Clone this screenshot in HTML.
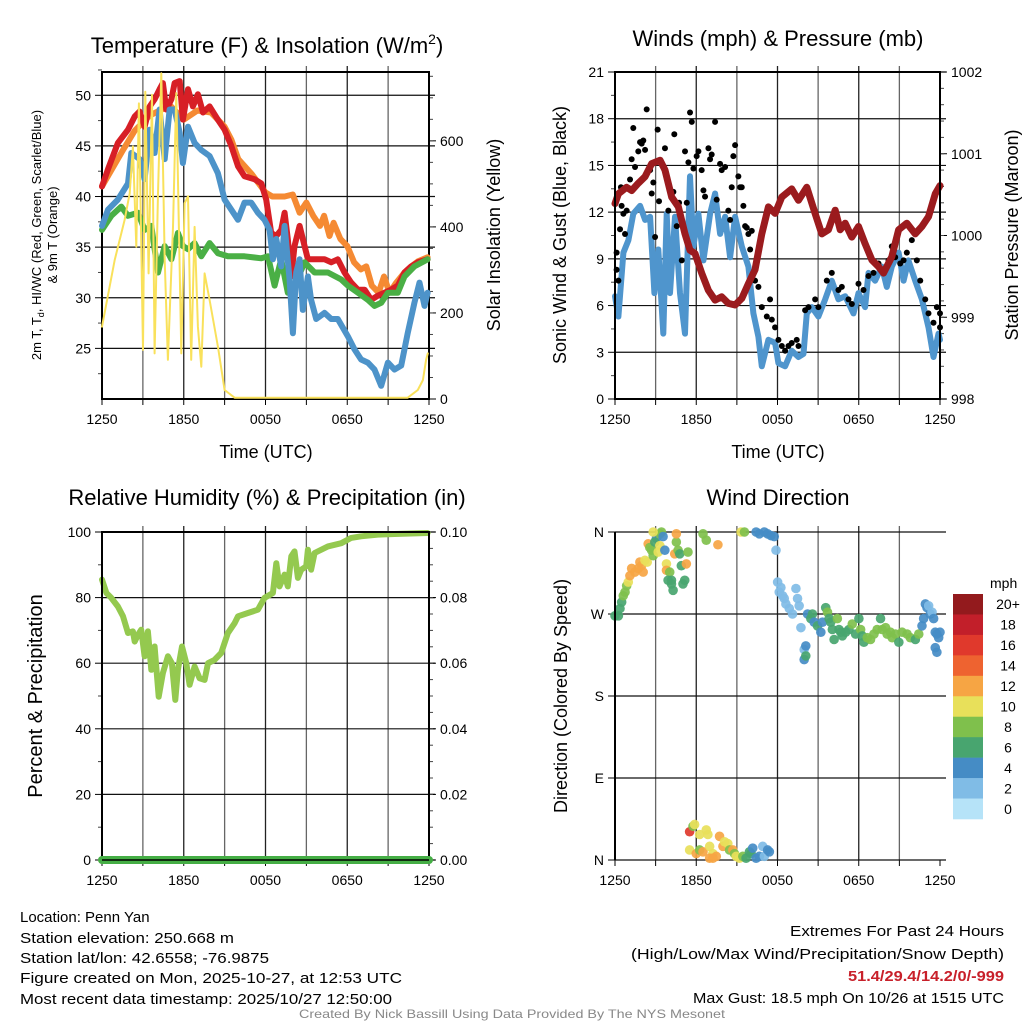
<!DOCTYPE html>
<html><head><meta charset="utf-8"><style>
html,body{margin:0;padding:0;background:#fff;}
svg{display:block;font-family:"Liberation Sans",sans-serif;}
</style></head><body>
<svg id="fig" width="1024" height="1024" viewBox="0 0 1024 1024" xmlns="http://www.w3.org/2000/svg">
<rect width="1024" height="1024" fill="#fff"/>
<g id="g1"></g>
<g id="g2"></g>
<g id="g3"></g>
<g id="g4"></g>
<g font-size="22" text-anchor="middle">
<text x="267" y="53">Temperature (F) &amp; Insolation (W/m<tspan font-size="14" dy="-9">2</tspan><tspan dy="9">)</tspan></text>
<text x="778" y="46">Winds (mph) &amp; Pressure (mb)</text>
<text x="267" y="505">Relative Humidity (%) &amp; Precipitation (in)</text>
<text x="778" y="505">Wind Direction</text>
</g>
<g font-size="18" text-anchor="middle">
<text x="266" y="458">Time (UTC)</text>
<text x="778" y="458">Time (UTC)</text>
<text font-size="13" transform="translate(41,235) rotate(-90)">2m T, T<tspan font-size="9" dy="3">d</tspan><tspan dy="-3">, HI/WC (Red, Green, Scarlet/Blue)</tspan></text>
<text font-size="13" transform="translate(57,235) rotate(-90)">&amp; 9m T (Orange)</text>
<text transform="translate(500,235) rotate(-90)">Solar Insolation (Yellow)</text>
<text transform="translate(566,235) rotate(-90)">Sonic Wind &amp; Gust (Blue, Black)</text>
<text transform="translate(1018,235) rotate(-90)">Station Pressure (Maroon)</text>
<text font-size="20" transform="translate(42,696) rotate(-90)">Percent &amp; Precipitation</text>
<text transform="translate(567,696) rotate(-90)">Direction (Colored By Speed)</text>
</g>
<g font-size="15">
<text x="20" y="922">Location: Penn Yan</text>
<text x="20" y="943" textLength="214" lengthAdjust="spacingAndGlyphs">Station elevation: 250.668 m</text>
<text x="20" y="963" textLength="249" lengthAdjust="spacingAndGlyphs">Station lat/lon: 42.6558; -76.9875</text>
<text x="20" y="983" textLength="382" lengthAdjust="spacingAndGlyphs">Figure created on Mon, 2025-10-27, at 12:53 UTC</text>
<text x="20" y="1004" textLength="372" lengthAdjust="spacingAndGlyphs">Most recent data timestamp: 2025/10/27 12:50:00</text>
</g>
<g font-size="15" text-anchor="end">
<text x="1004" y="936" textLength="214" lengthAdjust="spacingAndGlyphs">Extremes For Past 24 Hours</text>
<text x="1004" y="959" textLength="373" lengthAdjust="spacingAndGlyphs">(High/Low/Max Wind/Precipitation/Snow Depth)</text>
<text x="1004" y="981" fill="#c8202a" font-weight="bold" textLength="156" lengthAdjust="spacingAndGlyphs">51.4/29.4/14.2/0/-999</text>
<text x="1004" y="1003" textLength="311" lengthAdjust="spacingAndGlyphs">Max Gust: 18.5 mph On 10/26 at 1515 UTC</text>
</g>
<text x="512" y="1018" font-size="12" fill="#888" text-anchor="middle" textLength="426" lengthAdjust="spacingAndGlyphs">Created By Nick Bassill Using Data Provided By The NYS Mesonet</text>
</svg>
<script>
// ---------- data ----------
const xTickLabels = ["1250","1850","0050","0650","1250"];
const tRedH = [0,0.44,1.17,1.91,2.4,2.76,3.13,3.5,3.86,4.23,4.47,4.72,5.09,5.33,5.7,5.94,6.31,6.67,7.04,7.41,7.9,8.5,9.0,9.49,9.98,10.46,11.2,11.69,12.05,12.42,12.79,13.15,13.4,13.64,13.89,14.13,14.5,14.87,15.11,15.48,15.84,16.33,16.82,17.31,17.8,18.29,18.78,19.27,19.76,20.24,20.73,21.22,21.71,22.2,22.69,23.18,23.9];
const tRedV = [41.0,42.7,45.3,46.6,47.9,48.4,46.9,48.9,49.6,50.6,51.2,48.6,49.6,51.2,51.4,47.6,50.6,48.9,50.1,48.3,48.9,47.6,46.6,45.0,43.0,42.0,41.7,41.3,39.7,36.4,36.1,36.7,38.4,35.8,32.1,35.1,37.1,35.1,33.8,33.8,33.8,33.8,33.5,33.8,32.5,31.5,30.8,30.8,29.8,30.2,30.5,30.8,31.2,32.5,33.1,33.5,33.8];
const t9mH = [0,1.5,2.4,3.5,5,6,7,8,9,9.5,10,11,12,12.5,13.4,14,14.5,15,15.5,16,16.3,16.7,17,17.5,18,18.5,19,19.4,19.8,20.3,20.7,21.1,21.6,22.2,22.7,23.2,23.9];
const t9mV = [41,44.5,46.5,48,49,47.6,48.5,48.3,46.9,45.6,43.7,42.2,40.4,40.0,40.0,40.2,38.4,39.4,38.1,37.1,38.1,36.1,37.4,35.8,35.1,33.5,32.8,33.1,31.2,30.5,32.1,30.5,31.5,32.5,33.1,33.6,34.0];
const hiH = [0,0.44,1.17,1.91,2.15,2.76,3.13,3.5,3.86,4.23,4.6,4.96,5.33,5.7,5.94,6.31,6.8,7.29,7.9,8.51,9.0,9.49,9.98,10.46,10.95,11.44,11.93,12.3,12.54,12.79,13.15,13.4,13.77,14.01,14.25,14.5,14.74,15.11,15.35,15.72,16.33,16.82,17.31,18.04,18.53,19.02,19.51,20.0,20.49,20.98,21.47,21.96,22.44,22.93,23.3,23.67,23.9];
const hiV = [37.1,38.7,39.7,41.3,44.3,43.7,41.7,46.6,44.3,48.6,43.7,48.6,48.6,46.3,43.3,46.9,45.3,44.6,44.0,42.3,39.7,38.7,37.7,39.4,39.4,38.4,37.7,36.7,33.8,35.8,33.1,37.1,31.8,26.5,32.5,33.8,28.8,32.1,29.8,27.9,28.5,27.9,27.9,26.2,24.9,23.9,23.6,22.9,21.3,23.6,22.9,23.3,26.5,29.5,31.5,29.2,30.5];
const tdH = [0,0.68,1.42,1.91,2.64,3.13,3.62,4.11,4.6,5.09,5.57,5.94,6.31,6.8,7.29,7.9,8.51,9.24,10.46,11.69,12.18,12.67,13.15,13.64,14.13,14.87,15.6,16.58,17.56,18.04,18.78,19.51,20.0,20.49,20.98,21.71,22.2,22.93,23.9];
const tdV = [36.7,38.1,39.0,38.1,38.4,36.7,37.1,32.5,35.1,33.8,36.4,35.1,34.8,35.4,34.1,35.4,34.4,34.1,34.1,33.9,34.1,31.2,33.8,30.5,31.2,33.5,32.5,32.5,31.8,31.2,30.5,29.8,29.2,29.5,30.5,30.5,32.1,33.1,33.8];
const solH = [0,0.93,1.66,2.03,2.27,2.4,2.52,2.71,3.01,3.18,3.42,3.67,3.86,4.11,4.35,4.6,4.84,5.21,5.45,5.82,6.06,6.31,6.55,6.8,7.04,7.29,7.53,7.9,8.51,9.0,9.73,22.44,23.18,23.55,23.79,23.91];
const solV = [168,323,416,478,587,463,354,687,114,714,292,707,106,478,757,323,91,400,711,106,455,471,91,400,168,75,292,230,122,21,3,3,21,44,91,106];
const windH = [0,0.25,0.62,0.99,1.35,1.85,2.22,2.59,2.91,3.2,3.57,3.82,4.06,4.43,4.8,5.17,5.54,5.79,6.16,6.53,7.02,7.39,7.76,8.13,8.5,8.87,9.36,9.85,10.22,10.59,10.84,11.33,11.82,12.07,12.56,13.05,13.55,13.92,14.16,14.53,15.02,15.52,16.01,16.5,17.0,17.61,17.98,18.47,18.72,19.21,19.7,20.07,20.44,20.94,21.31,21.67,22.17,22.66,23.15,23.52,23.89,24.0];
const windV = [6.6,5.3,9.4,10.2,11.9,12.4,11.5,11.7,6.8,9.6,4.2,11.9,6.8,11.7,6.8,4.2,14.3,9.8,11.9,8.9,11.9,13.2,10.6,11.7,9.1,11.7,9.8,8.5,5.5,4.0,2.1,3.8,3.6,2.3,2.1,3.1,2.7,2.9,5.5,5.9,5.3,6.4,7.6,6.4,6.6,5.5,6.8,5.9,8.1,7.6,8.5,7.2,8.5,9.4,7.6,8.9,7.6,6.4,4.6,2.7,4.2,3.8];
const gustH = [0.12,0.12,0.25,0.37,0.49,0.62,0.74,0.44,0.86,1.11,1.23,1.35,1.48,1.72,1.85,1.97,2.09,2.22,2.34,2.59,2.71,2.83,2.96,3.15,3.25,3.69,3.94,4.31,4.38,4.56,4.73,4.93,5.17,5.3,5.42,5.54,5.67,5.79,6.03,6.16,6.4,6.53,6.65,6.9,7.02,7.14,7.39,7.51,7.76,7.88,8.13,8.37,8.5,8.62,8.74,8.87,9.11,9.24,9.36,9.48,9.61,9.73,9.85,9.98,10.1,10.34,10.59,10.84,11.21,11.45,11.58,11.82,12.07,12.32,12.56,12.81,13.05,13.42,13.55,14.04,14.29,14.78,15.02,15.64,16.01,16.5,16.75,17.24,17.49,17.98,18.35,18.72,19.09,19.46,19.83,20.2,20.44,20.69,21.06,21.31,21.55,21.92,22.29,22.54,22.91,23.15,23.52,23.77,24.0,24.0];
const gustV = [9.4,8.3,7.6,10.9,12.4,11.9,10.6,13.6,12.1,14.1,15.4,17.4,14.9,15.9,16.5,16.4,16.6,16.0,18.6,14.7,13.2,13.9,10.4,17.3,12.7,16.1,12.1,13.3,17.0,11.1,12.6,8.9,15.9,12.6,15.2,18.4,17.8,14.8,15.6,15.9,14.7,13.4,13.0,16.1,15.4,15.7,17.8,12.8,15.1,14.7,14.9,12.1,11.5,13.6,15.6,16.3,14.3,13.6,13.6,12.4,11.1,11.0,10.6,9.6,10.8,7.6,7.2,5.9,5.3,6.4,5.1,4.6,3.8,3.4,3.1,3.4,3.6,3.8,3.4,5.7,5.9,6.4,5.9,7.6,8.1,7.0,7.2,6.4,6.1,7.4,7.0,7.9,8.1,8.7,8.1,8.9,9.8,9.1,8.7,8.9,9.4,10.2,8.9,7.6,6.4,5.5,4.9,5.9,5.5,4.6];
const presH = [0,0.25,0.86,1.23,1.72,2.22,2.71,3.33,3.69,4.19,4.68,5.17,5.54,5.91,6.4,6.9,7.39,7.88,8.37,8.87,9.36,9.85,10.34,10.84,11.33,11.82,12.32,13.05,13.55,14.16,14.78,15.27,15.76,16.26,16.63,17.0,17.49,17.98,18.47,18.97,19.46,19.83,20.44,20.94,21.55,22.17,22.66,23.15,23.65,24.0];
const presV = [1000.39,1000.51,1000.59,1000.55,1000.64,1000.72,1000.88,1000.92,1000.80,1000.47,1000.35,1000.02,999.82,999.78,999.54,999.33,999.21,999.25,999.17,999.15,999.23,999.41,999.58,1000.02,1000.35,1000.27,1000.47,1000.57,1000.43,1000.59,1000.27,1000.02,1000.07,1000.31,1000.07,1000.15,999.98,1000.11,999.90,999.70,999.62,999.54,999.74,1000.07,1000.15,1000.02,1000.11,1000.23,1000.51,1000.61];
const rhH = [0,0.32,0.68,1.17,1.54,1.91,2.27,2.4,2.64,2.88,3.13,3.37,3.62,3.86,4.16,4.47,4.84,5.13,5.38,5.57,5.87,6.19,6.43,6.8,7.16,7.53,7.78,8.26,8.75,9.24,9.73,9.98,10.71,11.44,11.93,12.54,12.79,13.03,13.4,13.64,13.89,14.13,14.38,14.62,14.99,15.11,15.35,15.6,16.58,17.56,18.29,19.02,20.24,21.47,23.9];
const rhV = [85.5,81.4,79.9,77.3,74.3,69.2,69.7,66.6,68.7,70.2,62.1,69.7,58.0,65.1,49.8,57.0,62.1,60.0,48.8,58.0,65.1,60.0,53.4,59.0,55.4,54.9,60.0,61.0,63.1,69.2,72.2,74.3,75.3,76.3,79.9,81.4,90.5,83.4,87.0,83.4,92.6,94.1,86.0,88.5,89.5,94.6,88.5,93.6,95.6,96.6,98.2,98.7,99.2,99.4,99.7];
const precipH = [0,24];
const precipV = [0,0];
const dirH = [0,0.25,0.37,0.49,0.61,0.74,0.86,0.98,1.1,1.23,1.47,1.72,1.84,1.96,2.08,2.21,2.38,2.45,2.57,2.7,2.82,3.06,2.94,3.19,3.31,3.43,3.31,3.55,3.68,3.8,3.8,4.04,4.17,3.92,4.17,4.29,4.41,4.53,4.66,4.78,4.9,5.02,5.15,5.27,5.39,2.82,4.53,6.5,6.74,7.6,9.31,9.56,
10.42,10.66,11.03,11.27,11.52,11.76,11.89,12.01,12.13,12.25,12.38,12.5,12.62,12.87,13.11,13.36,13.48,13.6,13.73,13.97,14.09,13.97,14.09,14.22,14.46,14.58,14.71,14.95,15.2,15.32,15.56,15.69,15.81,15.93,16.05,16.18,16.42,16.54,16.67,16.79,17.03,17.28,17.52,17.77,18.01,18.14,18.26,18.38,18.63,18.87,19.12,19.36,19.61,19.73,19.98,20.1,20.34,20.47,20.71,20.96,21.2,21.57,21.81,22.18,22.43,22.67,22.79,22.92,23.04,23.16,23.28,23.41,23.53,23.65,23.77,23.9,24.0,23.65,23.77,
5.51,5.76,5.88,6.25,6.74,6.86,5.51,6.0,6.25,6.5,6.99,7.23,7.48,7.72,7.97,8.09,8.33,8.46,8.7,8.82,8.95,9.19,9.44,9.68,9.93,10.05,10.17,10.42,10.66,10.91,11.03,11.27,11.4,6.99,7.23];
const dirV = [268,268,276,283,290,294,301,305,312,320,316,320,327,323,316,329,327,347,343,340,334,353,349,338,358,360,345,355,340,325,318,316,307,307,303,296,336,349,340,336,323,303,307,325,338,360,358,358,351,346,360,360,
360,358,360,358,356,355,340,305,294,299,290,287,281,276,270,298,287,279,255,231,235,220,224,270,265,270,261,257,250,261,277,272,265,261,253,242,265,253,250,246,250,253,259,248,265,253,246,239,244,242,248,253,265,253,255,248,250,244,248,239,250,248,244,242,248,257,265,281,277,279,270,272,265,250,248,244,250,233,228,
31,37,39,28,33,28,11,7,11,9,15,7,4,26,15,20,18,11,11,7,4,2,4,2,9,7,13,2,4,15,4,11,9,2,2];
const dirSpd = [6,6,6,6,8,8,8,10,12,12,12,12,12,12,12,10,10,12,8,8,8,4,6,10,8,8,10,4,4,10,12,8,6,6,6,6,12,8,8,6,6,6,6,12,8,10,12,8,8,12,10,8,
4,4,4,4,4,4,2,2,2,2,2,2,2,2,2,2,2,2,2,2,4,4,6,4,6,6,4,6,4,4,6,8,6,6,6,6,8,6,6,6,6,6,8,6,6,8,6,6,8,8,8,8,6,8,8,8,8,8,8,6,8,8,8,6,8,4,4,4,4,2,4,2,4,4,4,4,4,4,4,
16,8,10,10,10,10,10,12,8,12,10,10,12,12,12,10,10,8,12,8,10,10,8,6,6,6,4,4,4,2,2,4,4,12,12];
const cbLabels = ["20+","18","16","14","12","10","8","6","4","2","0"];
const cbColors = ["#931a1d","#c21f2a","#e0392c","#ee6330","#f6a544","#e8e05a","#7fc04c","#48a56f","#458cc5","#80bce6","#b6e3f8"];

// ---------- helpers ----------
const NS="http://www.w3.org/2000/svg";
function mk(parent,tag,attrs){const e=document.createElementNS(NS,tag);for(const k in attrs)e.setAttribute(k,attrs[k]);parent.appendChild(e);return e;}
function lin(d0,d1,r0,r1){return v=>r0+(v-d0)/(d1-d0)*(r1-r0);}
function linePath(xs,ys,fx,fy){return xs.map((h,i)=>(i?"L":"M")+fx(h).toFixed(1)+","+fy(ys[i]).toFixed(1)).join("");}
function spdColor(s){let idx=10-Math.min(10,Math.floor(s/2));return cbColors[idx];}

function frame(g,L,R,T,B,fx){
  for(let h=3;h<24;h+=3){
    const gl=mk(g,"line",{x1:fx(h),x2:fx(h),y1:T-6,y2:B,stroke:(h%6===0)?"#222":"#666","stroke-width":1.3});
    
    
  }
  for(let i=0;i<=8;i++){
    const h=i*3;
    const tk=mk(g,"line",{x1:fx(h),x2:fx(h),y1:B,y2:B+6,stroke:"#000","stroke-width":1});
    
    
  }
  xTickLabels.forEach((lab,i)=>{
    const t=mk(g,"text",{x:fx(i*6),y:B+25,"font-size":14,"text-anchor":"middle"});
    t.textContent=lab;
    
    
  });
}
function yAxis(g,ticks,minor,fy,L,R,T,B,side,fmt,grid){
  ticks.forEach(v=>{
    const y=fy(v);
    if(grid){const gl=mk(g,"line",{x1:L,x2:R+6,y1:y,y2:y,stroke:"#111","stroke-width":1.2});
      
      }
    const x0=side==="L"?L:R, dx=side==="L"?-7:7;
    const tk=mk(g,"line",{x1:x0,x2:x0+dx,y1:y,y2:y,stroke:"#000","stroke-width":1});
    
    
    const t=mk(g,"text",{x:x0+(side==="L"?-11:11),y:y+5,"font-size":14,"text-anchor":side==="L"?"end":"start"});
    t.textContent=fmt(v);
    
    
  });
  minor.forEach(v=>{
    const y=fy(v);const x0=side==="L"?L:R, dx=side==="L"?-4:4;
    const tk=mk(g,"line",{x1:x0,x2:x0+dx,y1:y,y2:y,stroke:"#444","stroke-width":1});
    
    
  });
}
function border(g,L,R,T,B){
  const r=mk(g,"rect",{x:L,y:T,width:R-L,height:B-T,fill:"none",stroke:"#000","stroke-width":2});
  
  
}
function series(g,xs,ys,fx,fy,color,w,name){
  const p=mk(g,"path",{d:linePath(xs,ys,fx,fy),fill:"none",stroke:color,"stroke-width":w,"stroke-linejoin":"round","stroke-linecap":"round"});
  
  
  return p;
}
function range(a,b,s){const r=[];for(let v=a;v<=b+1e-9;v+=s)r.push(+v.toFixed(4));return r;}

// ---------- panel 1 ----------
(function(){
  const g=document.getElementById("g1");const L=102,R=429,T=72,B=399;
  const fx=lin(0,24,L,R), fy=lin(20,52.3,B,T), fy2=lin(0,760,B,T);
  frame(g,L,R,T,B,fx);
  yAxis(g,[25,30,35,40,45,50],range(22.5,52.5,5),fy,L,R,T,B,"L",v=>v,true);
  yAxis(g,[0,200,400,600],range(50,750,50),fy2,L,R,T,B,"R",v=>v,false);
  border(g,L,R,T,B);
  series(g,t9mH,t9mV,fx,fy,"#f58a33",6,"series-9m-temp");
  series(g,tRedH,tRedV,fx,fy,"#d71f26",6,"series-2m-temp");
  series(g,tdH,tdV,fx,fy,"#4aaf45",6,"series-dewpoint");
  series(g,hiH,hiV,fx,fy,"#4d93c9",6,"series-heat-index-wind-chill");
  series(g,solH,solV,fx,fy2,"#f9e15b",2,"series-solar-insolation");
})();
// ---------- panel 2 ----------
(function(){
  const g=document.getElementById("g2");const L=615,R=940,T=72,B=399;
  const fx=lin(0,24,L,R), fy=lin(0,21,B,T), fy2=lin(998,1002,B,T);
  frame(g,L,R,T,B,fx);
  yAxis(g,[0,3,6,9,12,15,18,21],range(1.5,19.5,3),fy,L,R,T,B,"L",v=>v,true);
  yAxis(g,[998,999,1000,1001,1002],range(998.2,1001.8,0.2),fy2,L,R,T,B,"R",v=>v,false);
  series(g,windH,windV,fx,fy,"#4f95cd",6,"series-sonic-wind");
  gustH.forEach((h,i)=>{
    const c=mk(g,"circle",{cx:fx(h),cy:fy(gustV[i]),r:3,fill:"#000"});
    
    
  });
  series(g,presH,presV,fx,fy2,"#9b1b1e",7,"series-station-pressure");
  border(g,L,R,T,B);
})();
// ---------- panel 3 ----------
(function(){
  const g=document.getElementById("g3");const L=102,R=429,T=532,B=860;
  const fx=lin(0,24,L,R), fy=lin(0,100,B,T), fy2=lin(0,0.1,B,T);
  frame(g,L,R,T,B,fx);
  yAxis(g,[0,20,40,60,80,100],range(10,90,20),fy,L,R,T,B,"L",v=>v,true);
  yAxis(g,[0,0.02,0.04,0.06,0.08,0.1],range(0.005,0.095,0.005),fy2,L,R,T,B,"R",v=>v.toFixed(2),false);
  series(g,rhH,rhV,fx,fy,"#94c94f",6,"series-relative-humidity");
  border(g,L,R,T,B);
  series(g,precipH,precipV,fx,fy2,"#45ae45",8,"series-precipitation");
  const ax=mk(g,"line",{x1:L,x2:R,y1:B,y2:B,stroke:"#000","stroke-width":1.5});
  
  
})();
// ---------- panel 4 ----------
(function(){
  const g=document.getElementById("g4");const L=615,R=940,T=532,B=860;
  const fx=lin(0,24,L,R), fy=lin(0,360,B,T);
  frame(g,L,R,T,B,fx);
  yAxis(g,[0,90,180,270,360],[],fy,L,R,T,B,"L",v=>({0:"N",90:"E",180:"S",270:"W",360:"N"})[v],true);
  dirH.forEach((h,i)=>{
    const c=mk(g,"circle",{cx:fx(h),cy:fy(dirV[i]),r:4.8,fill:spdColor(dirSpd[i]),"fill-opacity":0.92});
    
    
  });
  const lr=mk(g,"line",{x1:L,x2:L,y1:T,y2:B,stroke:"#000","stroke-width":2});
  
  
  const cb=mk(g,"g",{});
  
  
  const ct=mk(cb,"text",{x:990,y:588,"font-size":14});
  ct.textContent="mph";
  
  
  const bh=(819-594)/cbColors.length;
  cbColors.forEach((col,i)=>{
    const r=mk(cb,"rect",{x:953,y:594+i*bh,width:30,height:bh+0.3,fill:col});
    
    
    const t=mk(cb,"text",{x:1008,y:594+i*bh+bh/2+5,"font-size":14,"text-anchor":"middle"});
    t.textContent=cbLabels[i];
    
    
  });
})();
</script>
</body></html>
